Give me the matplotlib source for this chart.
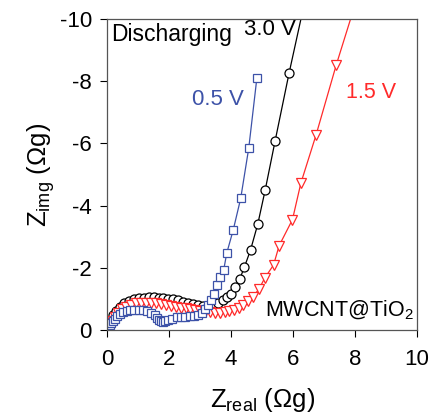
import matplotlib
matplotlib.use('Agg')
import matplotlib.pyplot as plt

plt.rcParams['font.family'] = ['Liberation Sans', 'DejaVu Sans']
plt.rcParams['mathtext.fontset'] = 'custom'
plt.rcParams['mathtext.rm'] = 'Liberation Sans'

# 3.0 V (black circles)
x_30 = [0.05, 0.12, 0.2, 0.3, 0.42, 0.55, 0.7, 0.86, 1.02, 1.18, 1.34, 1.5, 1.66,
        1.82, 1.98, 2.14, 2.3, 2.46, 2.62, 2.78, 2.94, 3.1, 3.26, 3.42, 3.58, 3.73,
        3.87, 4.0, 4.13, 4.28, 4.43, 4.63, 4.86, 5.10, 5.42, 5.87, 6.45]
y_30 = [-0.15, -0.32, -0.47, -0.61, -0.74, -0.85, -0.93, -0.99, -1.02, -1.04,
        -1.05, -1.05, -1.04, -1.03, -1.01, -0.98, -0.95, -0.91, -0.87, -0.83, -0.79,
        -0.77, -0.77, -0.8, -0.86, -0.95, -1.05, -1.17, -1.38, -1.64, -2.02, -2.58,
        -3.4, -4.5, -6.08, -8.26, -10.9]

# 0.5 V (blue squares)
x_05 = [0.03, 0.06, 0.1, 0.14, 0.19, 0.25, 0.33, 0.42, 0.52, 0.63, 0.75, 0.88,
        1.02, 1.16, 1.3, 1.43, 1.54, 1.62, 1.68, 1.74, 1.8, 1.88, 1.98, 2.1, 2.24,
        2.38, 2.52, 2.66, 2.8, 2.94, 3.06, 3.15, 3.24, 3.34, 3.44, 3.53, 3.65, 3.76,
        3.86, 4.07, 4.31, 4.57, 4.83]
y_05 = [-0.02, -0.08, -0.15, -0.22, -0.29, -0.36, -0.44, -0.51, -0.56, -0.6,
        -0.63, -0.64, -0.64, -0.63, -0.6, -0.55, -0.47, -0.38, -0.31, -0.27, -0.26,
        -0.27, -0.31, -0.36, -0.4, -0.42, -0.43, -0.44, -0.45, -0.48, -0.55, -0.66,
        -0.8, -0.96, -1.15, -1.45, -1.7, -1.92, -2.47, -3.22, -4.23, -5.85, -8.09]

# 1.5 V (red triangles)
x_15 = [0.03, 0.08, 0.15, 0.24, 0.35, 0.48, 0.62, 0.77, 0.93, 1.09, 1.25, 1.41,
        1.57, 1.73, 1.89, 2.05, 2.21, 2.37, 2.53, 2.69, 2.85, 3.01, 3.17, 3.33,
        3.49, 3.64, 3.79, 3.94, 4.09, 4.24, 4.40, 4.55, 4.70, 4.90, 5.08, 5.37,
        5.55, 5.98, 6.25, 6.74, 7.39, 8.15]
y_15 = [-0.05, -0.15, -0.28, -0.42, -0.55, -0.66, -0.75, -0.81, -0.85, -0.87,
        -0.88, -0.88, -0.86, -0.84, -0.81, -0.78, -0.75, -0.72, -0.69, -0.66, -0.63,
        -0.6, -0.58, -0.56, -0.55, -0.55, -0.57, -0.6, -0.65, -0.72, -0.8, -0.92,
        -1.07, -1.31, -1.66, -2.09, -2.71, -3.55, -4.72, -6.27, -8.52, -10.95]

blue = '#3d52a8'
red = '#ff2a2a'

fig = plt.figure(figsize=(4.30, 4.16), dpi=100)
ax = fig.add_axes([0.249, 0.207, 0.721, 0.747])

ax.plot(x_30, y_30, '-o', color='black', mfc='white', mec='black', ms=6.5,
        mew=0.9, lw=0.9)
ax.plot(x_15, y_15, '-v', color=red, mfc='white', mec=red, ms=7, mew=0.9, lw=0.9)
ax.plot(x_05, y_05, '-s', color=blue, mfc='white', mec=blue, ms=6, mew=0.9, lw=0.9)

ax.set_xlim(0, 10)
ax.set_ylim(0, -10)
ax.set_xticks([0, 2, 4, 6, 8, 10])
ax.set_yticks([0, -2, -4, -6, -8, -10])
ax.set_yticklabels(['0', '-2', '-4', '-6', '-8', '-10'])
ax.tick_params(direction='out', length=5, width=0.8, labelsize=16, pad=6,
               colors='black')
ax.tick_params(axis='x', pad=9)
for s in ax.spines.values():
    s.set_color('#555555')
    s.set_linewidth(0.9)

ax.set_xlabel(r'Z$_{\mathregular{real}}$ ($\Omega$g)', fontsize=18.5, labelpad=11)
ax.set_ylabel(r'Z$_{\mathregular{img}}$ ($\Omega$g)', fontsize=18.5, labelpad=2)

ax.text(0.12, -9.5, 'Discharging', fontsize=16.5, va='center', ha='left')
ax.text(5.26, -9.68, '3.0 V', fontsize=16, va='center', ha='center')
ax.text(3.58, -7.4, '0.5 V', fontsize=16, va='center', ha='center', color=blue)
ax.text(8.5, -7.65, '1.5 V', fontsize=15.5, va='center', ha='center', color=red)
ax.text(7.5, -0.62, r'MWCNT@TiO$_{\mathregular{2}}$', fontsize=15.5,
        va='center', ha='center')

fig.savefig('out.png', dpi=100)
